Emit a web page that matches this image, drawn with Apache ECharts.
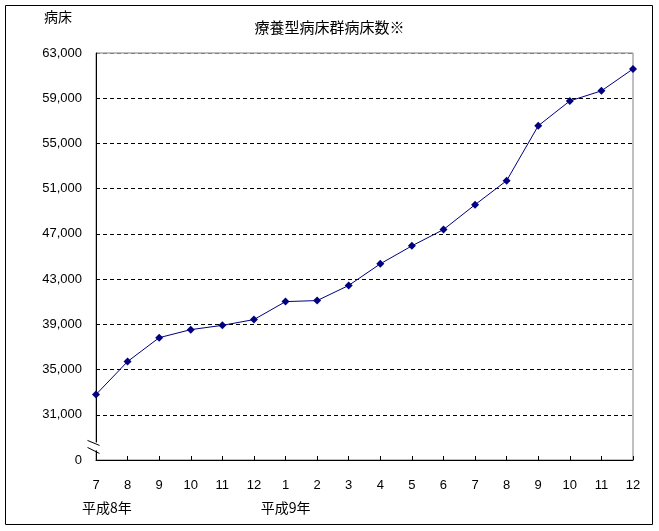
<!DOCTYPE html>
<html>
<head>
<meta charset="utf-8">
<script src="https://cdn.jsdelivr.net/npm/echarts@6/dist/echarts.min.js"></script>
<style>
  html, body { margin: 0; padding: 0; background: #fff; }
  #bed-chart { width: 659px; height: 531px; }
</style>
</head>
<body>
<div id="bed-chart"></div>
<script>
// 月（平成8年7月〜平成9年12月）
var months = ["7", "8", "9", "10", "11", "12", "1", "2", "3", "4", "5", "6", "7", "8", "9", "10", "11", "12"];
// 療養型病床群病床数
var beds = [32790, 35710, 37820, 38530, 38910, 39420, 41010, 41100, 42440,
            44350, 45940, 47380, 49580, 51710, 56560, 58760, 59650, 61590];
// 年の表示（カテゴリ番号と文字）
var eraIndex = [0, 6];
var eraText = ["平成8年", "平成9年"];
// 縦軸：0 の次は 31,000（途中を省略）
var axisBase = 27000;
var yStep = 4000;
var yTop = 63000;

var jpFont = "'Noto Sans CJK JP', sans-serif";
var numFont = "'Liberation Sans', Arial, sans-serif";

var chart = echarts.init(document.getElementById("bed-chart"));

var splitColors = [];
for (var i = 0; i <= (yTop - axisBase) / yStep; i++) {
  splitColors.push(i === (yTop - axisBase) / yStep ? "#808080" : "#000");
}

var option = {
  animation: false,
  backgroundColor: "#fff",
  title: {
    text: "療養型病床群病床数※",
    left: "center",
    top: 15,
    textStyle: { fontFamily: jpFont, fontSize: 15, fontWeight: "normal", color: "#000" }
  },
  grid: {
    left: 96,
    top: 53,
    right: 26,
    bottom: 71,
    show: true,
    borderColor: "#808080",
    borderWidth: 1
  },
  xAxis: {
    type: "category",
    boundaryGap: false,
    data: months,
    axisLine: { lineStyle: { color: "#000", width: 1 } },
    axisTick: { show: true, inside: true, length: 4, interval: 0, lineStyle: { color: "#000" } },
    axisLabel: { interval: 0, margin: 19, color: "#000", fontFamily: numFont, fontSize: 13 },
    splitLine: { show: false }
  },
  yAxis: {
    type: "value",
    min: 0,
    max: yTop - axisBase,
    interval: yStep,
    name: "病床",
    nameLocation: "end",
    nameGap: 29,
    nameTextStyle: { fontFamily: jpFont, fontSize: 14, color: "#000", align: "right", padding: [0, 24, 0, 0] },
    axisLine: { show: true, lineStyle: { color: "#000", width: 1 } },
    axisTick: { show: false },
    axisLabel: {
      margin: 14,
      color: "#000",
      fontFamily: numFont,
      fontSize: 13,
      formatter: function (v) {
        if (v === 0) return "0";
        return (v + axisBase).toLocaleString("en-US");
      }
    },
    splitLine: { show: true, lineStyle: { color: splitColors, type: [4, 3], width: 1 } }
  },
  series: [
    {
      name: "病床数",
      type: "line",
      data: beds.map(function (v) { return v - axisBase; }),
      symbol: "diamond",
      symbolSize: 8,
      lineStyle: { color: "#000080", width: 1 },
      itemStyle: { color: "#000080" }
    }
  ]
};
chart.setOption(option);

// 枠・軸の省略記号・年の表示
var g = [
  { type: "rect", shape: { x: 5.5, y: 5.5, width: 647, height: 519 },
    style: { fill: null, stroke: "#000", lineWidth: 1 }, z: 10 }
];
var p0 = chart.convertToPixel({ gridIndex: 0 }, [0, 1200]);
var bx = Math.round(p0[0]) + 0.5, by = p0[1];
g.push({ type: "rect", shape: { x: bx - 2, y: by - 4, width: 4, height: 8 }, style: { fill: "#fff" }, z: 20 });
g.push({ type: "line", shape: { x1: bx - 9, y1: by - 6, x2: bx + 3, y2: by - 1 }, style: { stroke: "#000", lineWidth: 1 }, z: 21 });
g.push({ type: "line", shape: { x1: bx - 9, y1: by + 1, x2: bx + 3, y2: by + 7 }, style: { stroke: "#000", lineWidth: 1 }, z: 21 });
for (var k = 0; k < eraIndex.length; k++) {
  var px = chart.convertToPixel({ gridIndex: 0 }, [eraIndex[k], 0]);
  g.push({
    type: "text",
    x: k === 0 ? px[0] - 14 : px[0],
    y: 508,
    style: {
      text: eraText[k],
      fontFamily: jpFont,
      fontSize: 14,
      fill: "#000",
      align: k === 0 ? "left" : "center",
      verticalAlign: "middle"
    },
    z: 10
  });
}
chart.setOption({ graphic: g });

window.addEventListener("resize", function () {
  chart.resize();
});
</script>
</body>
</html>
